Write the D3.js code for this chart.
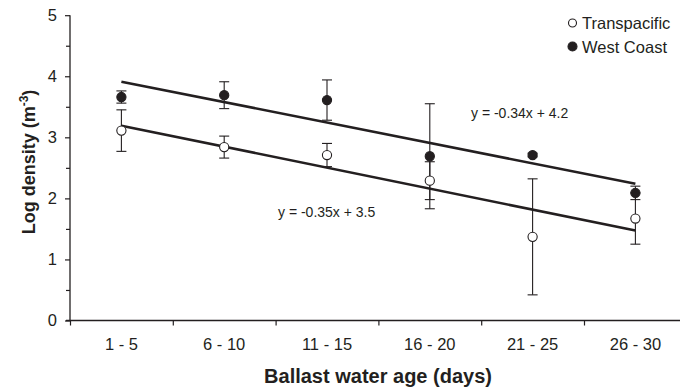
<!DOCTYPE html>
<html>
<head>
<meta charset="utf-8">
<script src="https://cdn.jsdelivr.net/npm/d3@7"></script>
<style>
  html, body { margin: 0; padding: 0; background: #fff; }
  svg { display: block; font-family: "Liberation Sans", Arial, sans-serif; }
</style>
</head>
<body>
<svg id="chart" width="680" height="390"></svg>
<script>
// ---- Data ----
const categories = ["1 - 5", "6 - 10", "11 - 15", "16 - 20", "21 - 25", "26 - 30"];
const transpacificMean = [3.11, 2.84, 2.71, 2.29, 1.37, 1.67];
const transpacificErr  = [0.34, 0.18, 0.19, 0.31, 0.95, 0.42];
const westCoastMean    = [3.66, 3.69, 3.61, 2.69, 2.71, 2.09];
const westCoastErr     = [0.10, 0.22, 0.33, 0.86, 0.03, 0.11];
const yTicks = [0, 1, 2, 3, 4, 5];
const yMinorTicks = [0.5, 1.5, 2.5, 3.5, 4.5];
const equationWest = "y = -0.34x + 4.2";
const equationTrans = "y = -0.35x + 3.5";
const legendLabels = ["Transpacific", "West Coast"];

// ---- Layout ----
const svg = d3.select("#chart");
const ink = "#231f20";
const plotLeft = 70, plotBottom = 320.5, plotTop = 15.2;
const step = 102.8;

const x = d3.scaleLinear().domain([0, categories.length]).range([plotLeft, plotLeft + step * categories.length]);
const xc = i => x(i + 0.5);
const y = d3.scaleLinear().domain([0, 5]).range([plotBottom, plotTop]);

// Y axis
const yAxis = svg.append("g").attr("transform", `translate(${plotLeft},0)`)
  .call(d3.axisLeft(y).tickValues(yTicks).tickFormat(d3.format("d")).tickSize(5).tickSizeOuter(0).tickPadding(8));
yAxis.select(".domain").remove();
yAxis.selectAll("line").attr("stroke", ink).attr("stroke-width", 1.2);
yAxis.selectAll("text").attr("fill", ink).style("font-size", "16.5px").style("font-family", "Liberation Sans, Arial, sans-serif");
const yMinor = svg.append("g").attr("transform", `translate(${plotLeft},0)`)
  .call(d3.axisLeft(y).tickValues(yMinorTicks).tickFormat("").tickSize(4).tickSizeOuter(0));
yMinor.select(".domain").remove();
yMinor.selectAll("line").attr("stroke", ink).attr("stroke-width", 1.2);
svg.append("line").attr("x1", plotLeft).attr("x2", plotLeft).attr("y1", plotTop).attr("y2", plotBottom)
  .attr("stroke", ink).attr("stroke-width", 1.3);

// X axis
const xAxis = svg.append("g").attr("transform", `translate(0,${plotBottom})`)
  .call(d3.axisBottom(x).tickValues(d3.range(categories.length + 1)).tickFormat("").tickSize(5).tickSizeOuter(0));
xAxis.select(".domain").remove();
xAxis.selectAll("line").attr("stroke", ink).attr("stroke-width", 1.2);
svg.append("line").attr("x1", plotLeft - 4).attr("x2", 680).attr("y1", plotBottom).attr("y2", plotBottom)
  .attr("stroke", ink).attr("stroke-width", 1.3);
svg.append("g").selectAll("text").data(categories).join("text")
  .attr("x", (d, i) => xc(i)).attr("y", 350)
  .attr("text-anchor", "middle").attr("fill", ink)
  .style("font-size", "16.5px").text(d => d);

// Axis titles
svg.append("text").attr("x", 378).attr("y", 383).attr("text-anchor", "middle")
  .attr("fill", ink).style("font-size", "20px").style("font-weight", "bold")
  .text("Ballast water age (days)");
const yt = svg.append("text").attr("transform", "translate(35,162) rotate(-90)")
  .attr("text-anchor", "middle").attr("fill", ink)
  .style("font-size", "18px").style("font-weight", "bold");
yt.append("tspan").text("Log density (m");
yt.append("tspan").attr("dy", -7).style("font-size", "12px").text("-3");
yt.append("tspan").attr("dy", 7).text(")");

// Regression helper (least squares on category index 1..n)
function fit(vals) {
  const xs = vals.map((_, i) => i + 1);
  const mx = d3.mean(xs), my = d3.mean(vals);
  const sxy = d3.sum(xs, (xv, i) => (xv - mx) * (vals[i] - my));
  const sxx = d3.sum(xs, xv => (xv - mx) ** 2);
  const b = sxy / sxx;
  return { b, a: my - b * mx };
}
const series = [
  { mean: westCoastMean, err: westCoastErr, fill: ink },
  { mean: transpacificMean, err: transpacificErr, fill: "#fff" }
];
const line = d3.line().x(d => xc(d[0])).y(d => y(d[1]));
series.forEach(s => {
  const f = fit(s.mean);
  const n = s.mean.length;
  svg.append("path").datum([[0, f.a + f.b * 1], [n - 1, f.a + f.b * n]])
    .attr("d", line).attr("fill", "none").attr("stroke", ink).attr("stroke-width", 2.6);
});

// Error bars
series.slice().reverse().forEach(s => {
  const g = svg.append("g").attr("stroke", ink).attr("stroke-width", 1.1);
  s.mean.forEach((m, i) => {
    const cx = xc(i);
    g.append("line").attr("x1", cx).attr("x2", cx).attr("y1", y(m - s.err[i])).attr("y2", y(m + s.err[i]));
    [m - s.err[i], m + s.err[i]].forEach(v => {
      g.append("line").attr("x1", cx - 5).attr("x2", cx + 5).attr("y1", y(v)).attr("y2", y(v));
    });
  });
});

// Markers
series.forEach(s => {
  svg.append("g").selectAll("circle").data(s.mean).join("circle")
    .attr("cx", (d, i) => xc(i)).attr("cy", d => y(d)).attr("r", 4.6)
    .attr("fill", s.fill).attr("stroke", ink).attr("stroke-width", 1.1);
});

// Equations
svg.append("text").attr("x", 471).attr("y", 118).attr("fill", ink).style("font-size", "14px").text(equationWest);
svg.append("text").attr("x", 278).attr("y", 216.5).attr("fill", ink).style("font-size", "14px").text(equationTrans);

// Legend
const legend = svg.append("g");
[{ fill: "#fff", r: 4 }, { fill: ink, r: 4.5 }].forEach((m, i) => {
  const cy = 23 + i * 23.5;
  legend.append("circle").attr("cx", 572.5).attr("cy", cy).attr("r", m.r)
    .attr("fill", m.fill).attr("stroke", ink).attr("stroke-width", 1.1);
  legend.append("text").attr("x", 582).attr("y", cy + 6).attr("fill", ink)
    .style("font-size", "16.5px").text(legendLabels[i]);
});
</script>
</body>
</html>
